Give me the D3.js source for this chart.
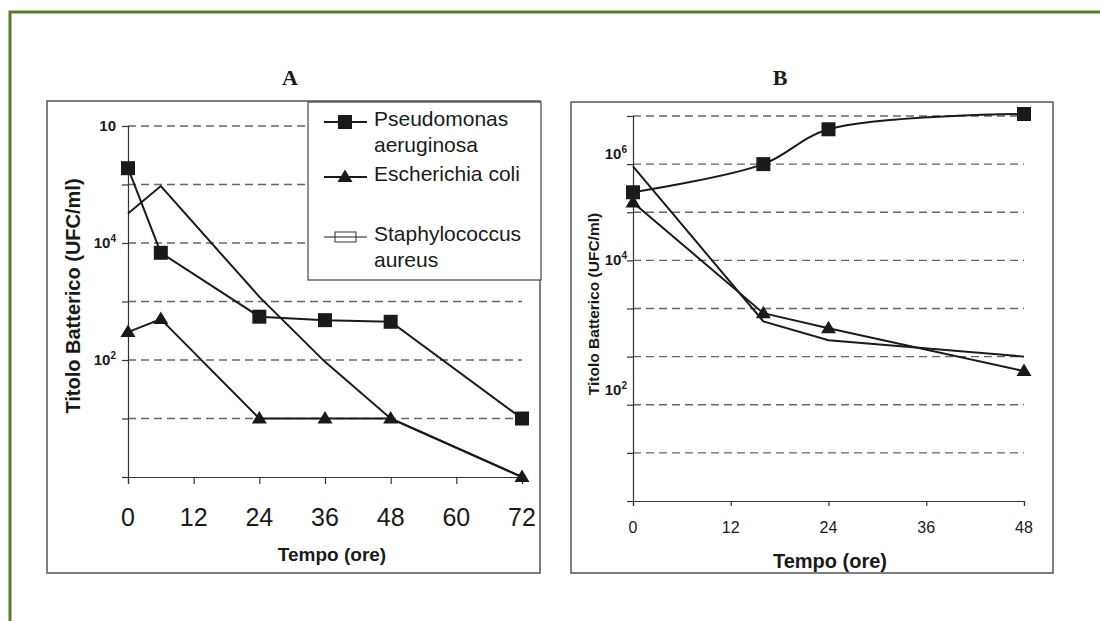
<!DOCTYPE html>
<html>
<head>
<meta charset="utf-8">
<script src="https://cdn.jsdelivr.net/npm/d3@7"></script>
<style>
  body { margin: 0; background: #fff; }
  svg { display: block; }
  text { font-family: "Liberation Sans", Arial, sans-serif; fill: #1a1a1a; }
</style>
</head>
<body>
<div id="chart"></div>
<script>
// dati (UFC/ml)
const hoursA = [0, 6, 24, 36, 48, 72];
const pseudoA = [1.9e5, 6.8e3, 550, 480, 450, 10];
const ecoliA = [300, 500, 10, 10, 10, 1];
const staphA = [3.2e4, 9.4e4, 1.2e3, 93, 10, 1];

const hoursB = [0, 16, 24, 48];
const pseudoB = [2.6e5, 1.0e6, 5.3e6, 1.1e7];
const ecoliB = [1.6e5, 800, 390, 50];
const staphB = [9.0e5, 540, 220, 100];

const xTicksA = [0, 12, 24, 36, 48, 60, 72];
const xTicksB = [0, 12, 24, 36, 48];
// etichette asse y: [base, esponente, valore a cui sono poste]
const yLabelsA = [["10", "", 1e6], ["10", "4", 1e4], ["10", "2", 1e2]];
const yLabelsB = [["10", "6", 1.6e6], ["10", "4", 1e4], ["10", "2", 20]];

const legendNames = [["Pseudomonas", "aeruginosa"], ["Escherichia coli"], ["Staphylococcus", "aureus"]];

const W = 1100, H = 621;
const svg = d3.select("#chart").append("svg").attr("width", W).attr("height", H);

// bordo verde
svg.append("path")
    .attr("d", `M10,${H} L10,12 L${W},12`)
    .attr("fill", "none")
    .attr("stroke", "#5b7b2b")
    .attr("stroke-width", 3);

const triangle = "M0,-7.5L7.5,5L-7.5,5Z";

function panel(opts) {
    const g = svg.append("g");
    const { frame, xRange, yRange, xDomain, yDomain } = opts;

    g.append("rect")
        .attr("x", frame[0]).attr("y", frame[1])
        .attr("width", frame[2] - frame[0]).attr("height", frame[3] - frame[1])
        .attr("fill", "#fff").attr("stroke", "#555").attr("stroke-width", 1.5);

    const x = d3.scaleLinear().domain(xDomain).range(xRange);
    const y = d3.scaleLog().domain(yDomain).range(yRange);

    // griglia tratteggiata
    g.selectAll(".grid")
        .data(opts.grid)
        .enter()
        .append("line")
        .attr("x1", xRange[0]).attr("x2", xRange[1])
        .attr("y1", d => y(d)).attr("y2", d => y(d))
        .attr("stroke", "#666")
        .attr("stroke-width", 1.4)
        .attr("stroke-dasharray", "8,5");

    // assi
    const yAxis = g.append("g")
        .attr("transform", `translate(${xRange[0]},0)`)
        .call(d3.axisLeft(y).tickValues(opts.grid.concat([yDomain[0]])).tickSize(6).tickFormat(""));
    const xAxis = g.append("g")
        .attr("transform", `translate(0,${yRange[0]})`)
        .call(d3.axisBottom(x).tickValues(opts.xTicks).tickSize(opts.tickLen).tickFormat(""));
    [yAxis, xAxis].forEach(a => {
        a.select(".domain").attr("stroke", "#333").attr("stroke-width", 1.2);
        a.selectAll(".tick line").attr("stroke", "#333").attr("stroke-width", 1.2);
    });

    // etichette x
    g.selectAll(".xl")
        .data(opts.xTicks)
        .enter()
        .append("text")
        .attr("x", d => x(d))
        .attr("y", yRange[0] + opts.xLabelDy)
        .attr("text-anchor", "middle")
        .style("font-size", opts.xLabelSize + "px")
        .text(d => d);

    // etichette y con esponente
    opts.yLabels.forEach(([base, exp, v]) => {
        const t = g.append("text")
            .attr("x", xRange[0] - opts.yLabelGap)
            .attr("y", y(v) + 5)
            .attr("text-anchor", "end")
            .style("font-size", "15px")
            .style("font-weight", "bold");
        t.append("tspan").text(base);
        if (exp) t.append("tspan").attr("dy", -6).style("font-size", "10px").text(exp);
    });

    // titoli
    g.append("text")
        .attr("x", opts.title[1]).attr("y", 85)
        .attr("text-anchor", "middle")
        .style("font-family", "'Liberation Serif', 'Times New Roman', serif")
        .style("font-weight", "bold")
        .style("font-size", "22px")
        .text(opts.title[0]);

    g.append("text")
        .attr("x", opts.xTitle[0]).attr("y", opts.xTitle[1])
        .attr("text-anchor", "middle")
        .style("font-weight", "bold")
        .style("font-size", opts.xTitle[2] + "px")
        .text("Tempo (ore)");

    g.append("text")
        .attr("transform", `translate(${opts.yTitle[0]},${opts.yTitle[1]}) rotate(-90)`)
        .attr("text-anchor", "middle")
        .style("font-weight", "bold")
        .style("font-size", opts.yTitle[2] + "px")
        .text("Titolo Batterico (UFC/ml)");

    // serie
    opts.series.forEach(s => {
        const pts = s.values.map((v, i) => [x(s.hours[i]), y(v)]);
        g.append("path")
            .attr("d", d3.line().curve(s.curve || d3.curveLinear)(pts))
            .attr("fill", "none")
            .attr("stroke", "#1a1a1a")
            .attr("stroke-width", 2);
        if (s.marker === "square") {
            g.selectAll(null).data(pts).enter().append("rect")
                .attr("x", d => d[0] - 7).attr("y", d => d[1] - 7)
                .attr("width", 14).attr("height", 14)
                .attr("fill", "#1a1a1a");
        } else if (s.marker === "triangle") {
            g.selectAll(null).data(pts).enter().append("path")
                .attr("d", triangle)
                .attr("transform", d => `translate(${d[0]},${d[1]})`)
                .attr("fill", "#1a1a1a");
        }
    });
    return g;
}

const gA = panel({
    frame: [47, 101, 540, 573],
    xDomain: [0, 72], xRange: [128, 522],
    yDomain: [1, 1e6], yRange: [477, 126],
    grid: [10, 100, 1e3, 1e4, 1e5, 1e6],
    xTicks: xTicksA, tickLen: 7, xLabelDy: 49, xLabelSize: 25,
    yLabels: yLabelsA, yLabelGap: 12,
    title: ["A", 290],
    xTitle: [332, 561, 19],
    yTitle: [80, 296, 20],
    series: [
        { hours: hoursA, values: pseudoA, marker: "square" },
        { hours: hoursA, values: ecoliA, marker: "triangle" },
        { hours: hoursA, values: staphA, marker: null }
    ]
});

panel({
    frame: [571, 102, 1053, 573],
    xDomain: [0, 48], xRange: [633, 1024],
    yDomain: [0.1, 1e7], yRange: [501, 116],
    grid: [1, 10, 100, 1e3, 1e4, 1e5, 1e6, 1e7],
    xTicks: xTicksB, tickLen: 5, xLabelDy: 32, xLabelSize: 16,
    yLabels: yLabelsB, yLabelGap: 6,
    title: ["B", 780],
    xTitle: [830, 568, 20],
    yTitle: [599, 304, 15.5],
    series: [
        { hours: hoursB, values: pseudoB, marker: "square", curve: d3.curveCatmullRom.alpha(0.5) },
        { hours: hoursB, values: ecoliB, marker: "triangle" },
        { hours: hoursB, values: staphB, marker: null }
    ]
});

// legenda del pannello A
const leg = gA.append("g");
leg.append("rect")
    .attr("x", 308).attr("y", 102).attr("width", 233).attr("height", 178)
    .attr("fill", "#fff").attr("stroke", "#444").attr("stroke-width", 1.2);

const legRowY = [122, 177, 237];
const legMarkers = ["square", "triangle", "open"];
legendNames.forEach((lines, i) => {
    const ly = legRowY[i];
    const item = leg.append("g");
    if (legMarkers[i] === "open") {
        item.append("rect")
            .attr("x", 335).attr("y", ly - 5).attr("width", 21).attr("height", 10)
            .attr("fill", "#fff").attr("stroke", "#333").attr("stroke-width", 1);
    }
    item.append("line")
        .attr("x1", 324).attr("x2", 367).attr("y1", ly).attr("y2", ly)
        .attr("stroke", "#1a1a1a").attr("stroke-width", legMarkers[i] === "open" ? 1.2 : 2);
    if (legMarkers[i] === "square") {
        item.append("rect").attr("x", 338).attr("y", ly - 7).attr("width", 14).attr("height", 14).attr("fill", "#1a1a1a");
    } else if (legMarkers[i] === "triangle") {
        item.append("path").attr("d", triangle).attr("transform", `translate(345,${ly})`).attr("fill", "#1a1a1a");
    }
    lines.forEach((ln, j) => {
        item.append("text")
            .attr("x", 374).attr("y", ly + 4 + j * 26)
            .style("font-size", "21px")
            .text(ln);
    });
});
</script>
</body>
</html>
